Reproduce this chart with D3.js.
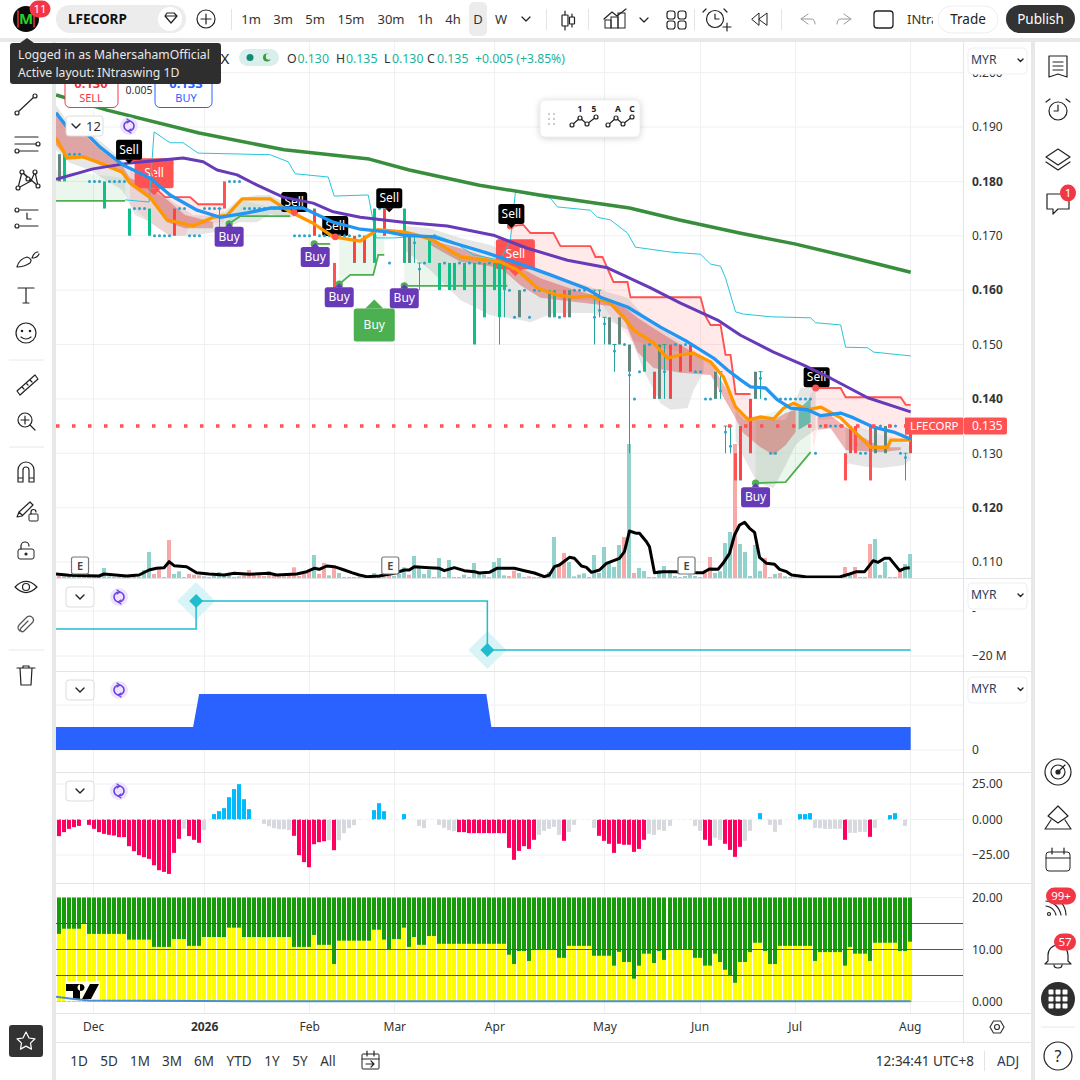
<!DOCTYPE html>
<html><head><meta charset="utf-8">
<script src="https://cdn.jsdelivr.net/npm/d3@7/dist/d3.min.js"></script>
<style>html,body{margin:0;padding:0;background:#e8e8e8;overflow:hidden}svg{display:block}text{font-family:"Noto Sans",sans-serif}</style>
</head><body><svg id="c" width="1080" height="1080" viewBox="0 0 1080 1080"></svg>
<script>
// ---------- categories / ticks ----------
const monthTicks=[[6.8,"Dec",0],[29,"2026",1],[50,"Feb",0],[67,"Mar",0],[87,"Apr",0],[109,"May",0],[128,"Jun",0],[147,"Jul",0],[170,"Aug",0]];
const priceTicks=[0.2,0.19,0.18,0.17,0.16,0.15,0.14,0.13,0.12,0.11];
const boldPrices=[0.18,0.16,0.14,0.12];
const ranges=[["1D",79],["5D",109],["1M",140],["3M",172],["6M",204],["YTD",239],["1Y",272],["5Y",300],["All",328]];
const intervals=[["1m",251],["3m",283],["5m",315],["15m",351],["30m",391],["1h",425],["4h",453],["D",478],["W",501]];
// ---------- price bars: kind m=mixed g=green r=red d=dot t=thin ----------
const barKind=["m","g","d","d","d","","d","d","d","g","d","d","d","d","g","d","d","d","g","d","d","d","d","m","d","d","d","d","d","d","d","d","t","r","d","d","d","d","d","d","d","d","d","d","d","d","d","d","d","d","d","m","d","d","d","r","d","d","d","m","d","m","","g","d","m","d","","","g","m","t","t","d","g","d","g","d","g","g","d","g","d","g","d","g","d","g","g","g","d","d","m","d","d","d","d","d","m","g","d","r","m","d","d","d","d","t","t","t","m","t","m","d","m","d","d","g","d","m","m","t","m","d","m","d","m","d","d","d","d","m","t","t","t","r","m","","m","m","t","d","d","d","d","d","d","d","d","d","d","d","d","d","d","d","d","r","m","r","d","d","r","m","d","m","d","d","d","t","m"];
const barTop=[.185,.185,.185,.185,.185,null,.18,.18,.18,.18,.18,.18,.18,.18,.175,.175,.175,.175,.175,.17,.17,.17,.17,.175,.175,.175,.17,.17,.17,.175,.175,.175,.175,.18,.18,.18,.18,.175,.175,.175,.175,.175,.175,.175,.175,.175,.175,.17,.17,.17,.17,.175,.17,.17,.17,.165,.17,.17,.17,.17,.17,.17,null,.175,.175,.175,.165,null,null,.175,.17,.17,.165,.165,.17,.17,.165,.165,.165,.165,.165,.165,.165,.165,.165,.165,.165,.165,.165,.165,.16,.155,.16,.16,.155,.16,.16,.16,.16,.16,.155,.16,.16,.16,.16,.16,.16,.16,.16,.155,.155,.15,.155,.15,.15,.14,.145,.15,.15,.145,.15,.15,.15,.15,.15,.15,.15,.145,.145,.14,.14,.145,.145,.135,.135,.13,.135,null,.14,.145,.145,.14,.13,.13,.14,.14,.14,.14,.14,.14,.14,.13,.135,.135,.135,.135,.135,.13,.135,.135,.13,.13,.135,.135,.135,.135,.135,.135,.13,.13,.135];
const barBot=[.18,.18,.185,.185,.185,null,.18,.18,.18,.175,.18,.18,.18,.18,.17,.175,.175,.175,.17,.17,.17,.17,.17,.17,.175,.175,.17,.17,.17,.175,.175,.175,.17,.175,.18,.18,.18,.175,.175,.175,.175,.175,.175,.175,.175,.175,.175,.17,.17,.17,.17,.17,.17,.17,.17,.16,.17,.17,.17,.165,.17,.165,null,.165,.175,.17,.165,null,null,.165,.165,.165,.16,.165,.165,.17,.16,.165,.16,.16,.165,.16,.165,.15,.165,.155,.165,.16,.155,.16,.16,.155,.155,.16,.155,.16,.16,.16,.155,.155,.155,.155,.155,.16,.16,.16,.16,.15,.155,.15,.15,.145,.15,.15,.145,.14,.145,.145,.15,.14,.14,.14,.14,.15,.145,.15,.145,.145,.145,.14,.14,.14,.14,.13,.13,.125,.125,null,.13,.14,.14,.14,.13,.13,.14,.14,.14,.14,.14,.14,.14,.13,.135,.135,.135,.135,.135,.125,.13,.13,.13,.13,.125,.13,.135,.13,.135,.135,.13,.125,.13];
const barWick=[[88,.15],[89,.155],[114,.13]];
const barDot=[[32,.175],[71,.1687],[72,.1639],[107,.155],[108,.1563],[109,.1538],[111,.1488],[114,.1444],[121,.145],[132,.1415],[133,.1339],[134,.1313],[140,.1438],[169,.1292]];
// ---------- overlays: [bar, price] ----------
const slowMa=[[-.6,.1959],[9.6,.1931],[28,.1889],[45,.1858],[62,.1841],[70,.1821],[84,.1793],[96,.1775],[114,.1751],[124,.1729],[136,.1705],[147,.1685],[158,.1661],[170.2,.1633]];
const purpleMa=[[-.6,.1804],[6.8,.1823],[14.2,.1834],[24.8,.1843],[28.8,.1836],[31.6,.1821],[35.6,.1812],[39.6,.1793],[44.8,.1771],[50.8,.176],[54.8,.1744],[60.2,.1734],[68.8,.1725],[77.6,.1718],[86.8,.1701],[93.6,.1677],[101.6,.1655],[109.6,.1641],[113.6,.1624],[118.2,.1604],[124.2,.1576],[131.6,.1545],[136.2,.1517],[142.8,.1486],[148.8,.1462],[154.2,.1438],[161.6,.1402],[170.2,.1376]];
const blueMa=[[-.6,.1926],[1.6,.19],[4.8,.1894],[8.2,.1863],[12.8,.183],[18.2,.1806],[22.2,.1775],[27.6,.1747],[32.2,.1734],[37.6,.1742],[42.2,.1751],[48.8,.1751],[54.8,.1725],[60.2,.1712],[65.6,.1707],[68.8,.1701],[74.8,.1698],[80.2,.1683],[85.6,.1668],[92.8,.1646],[98.2,.1628],[105.6,.1602],[108.2,.1587],[113.6,.1569],[120.2,.1532],[125.6,.1505],[130.8,.1475],[133.6,.1453],[136.2,.1435],[138.2,.1422],[141.2,.142],[143.6,.1398],[146.2,.1383],[149.6,.138],[152.2,.1369],[156.2,.1374],[158.8,.1365],[162.8,.1348],[166.8,.1339],[170.2,.1326]];
const orangeMa=[[-.6,.188],[1.6,.1843],[4.8,.1845],[8.2,.1834],[12.6,.1817],[14.2,.1797],[18.2,.1771],[21.6,.1729],[26.8,.1718],[30.8,.1734],[33.6,.1738],[36.6,.1768],[42.2,.1768],[46.2,.1744],[50.8,.1723],[54.8,.1698],[60.2,.169],[63.6,.1711],[68.8,.1707],[71.6,.1701],[74.8,.1692],[80.2,.1661],[88.2,.1652],[91.6,.1637],[95.6,.1604],[99.6,.1591],[102.8,.1587],[106.2,.1589],[110.2,.1576],[112.8,.1551],[114.8,.1527],[118.8,.1503],[121.6,.1475],[124.2,.1481],[126.8,.1484],[130.2,.1468],[132.8,.144],[135.2,.1385],[137.8,.1361],[140.2,.1367],[142.8,.1363],[144.8,.1383],[146.8,.1392],[149.6,.138],[152.2,.1385],[156.2,.1365],[159.6,.1334],[162.2,.1311],[165.6,.1311],[166.2,.1324],[170.2,.1324]];
const cyanTrail=[[13.2,.1766],[18,.1762],[19,.1891],[22.2,.1871],[24.8,.1871],[27.8,.1852],[42.2,.1849],[45.8,.1836],[47.2,.1814],[53.8,.1808],[55,.1773],[61.8,.1775],[63.4,.1696],[66.8,.1696],[75.2,.1701],[78.8,.1689],[82.8,.1665],[88.2,.1655],[90.2,.1692],[91.2,.178],[91.6,.178],[98.2,.1769],[99.6,.1753],[106.2,.1747],[107.6,.1734],[110.2,.1729],[113.6,.1705],[115.2,.1679],[122.2,.167],[128.2,.1666],[130.2,.1648],[132.2,.1644],[133.2,.1622],[135.2,.156],[136.8,.1556],[142.2,.1551],[150.2,.1549],[151.2,.154],[156.2,.1536],[157.2,.1495],[161.6,.1494],[162.8,.1486],[170.2,.1479]];
const redStop1=[[14,.1839],[18.2,.1839],[19.6,.1784],[21.2,.1771],[26.2,.1771],[27.8,.1758],[33,.1758]];
const redStop2=[[90.2,.1718],[92.8,.172],[94.2,.1705],[98.8,.1705],[100.2,.1681],[106.2,.1681],[107.2,.1661],[108.6,.1661],[110.8,.1615],[113.6,.1615],[114.2,.1587],[128.2,.1587],[129.2,.1552],[130.2,.1536],[132.2,.1536],[133.2,.1481],[134.2,.1481],[135.2,.1409],[138.2,.1409]];
const redStop3=[[151.2,.142],[156.2,.142],[157.2,.1403],[168.2,.1403],[169.2,.1389],[170.2,.1389]];
const greenStop1=[[-.6,.1764],[13.2,.1764]];
const greenStop2=[[34,.1722],[36.2,.1736],[46.2,.1736]];
const greenStop3=[[51,.1685],[54.2,.1685]];
const greenStop4=[[56,.1611],[58.2,.1628],[62.8,.1628],[63.8,.1665],[65,.1665]];
const greenStop5=[[69,.1608],[89.6,.1608]];
const greenStop6=[[139.2,.1245],[145.2,.1247],[150.2,.1302]];
// ---------- bands: [bar, upper, lower] ----------
const grayBands=[
[[-.6,.194,.1858],[2.2,.1904,.1834],[6.2,.1889,.1821],[9.2,.1867,.1803],[12.6,.1839,.1784],[15.2,.1812,.1738],[18.2,.1793,.1725],[22.2,.1766,.17],[26.8,.1738,.17],[31.2,.1736,.1707],[33,.1744,.1714],[36.2,.1769,.1725],[39.6,.1775,.1725],[42.2,.1775,.174],[46.2,.1757,.1733],[48.2,.1757,.1738]],
[[69,.1718,.1674],[74.2,.1714,.1637],[80.2,.1696,.1582],[86.2,.1683,.1554],[92.2,.1659,.1545],[94.2,.1646,.1541],[98.8,.1628,.1558],[106.8,.1604,.1558],[113.6,.1586,.1527],[116.8,.1554,.1453],[120.2,.1536,.1392],[122.2,.1517,.138],[125.6,.1499,.1383],[126.8,.149,.1416],[128.8,.1471,.1449]],
[[135.2,.138,.1324],[136.8,.1361,.1293],[139.6,.1361,.1245],[142.8,.1361,.1236],[145.2,.1361,.1278],[147.2,.1398,.1315],[148.2,.142,.1324],[151.2,.1422,.1343]],
[[157.2,.1352,.1282],[161.2,.1343,.1275],[164.2,.1334,.1273],[168.8,.1324,.1278],[170.2,.1315,.1288]]];
const darkRedBands=[
[[-.6,.1928,.1867],[1.6,.1898,.1843],[4.8,.1889,.1845],[8.2,.1858,.183],[12.6,.183,.1817],[14.2,.1806,.1793],[18.2,.1788,.1766],[21.6,.1766,.1725],[25.2,.1738,.1714],[30.8,.1725,.1714]],
[[74.2,.1692,.1683],[80.2,.1677,.1652],[88.2,.1652,.1641],[92.2,.1641,.1609],[96.2,.1622,.1586],[103.2,.16,.1578],[110.2,.1582,.1571],[113.2,.1567,.1541],[115.6,.1549,.1486],[118.8,.153,.1457],[124.2,.1499,.1448],[130.2,.1468,.1444],[134.6,.1398,.1374],[136.8,.1367,.1337],[140.2,.1367,.1311],[142.8,.1361,.1297],[145.2,.1374,.1315],[147.2,.138,.1339]],
[[151.6,.1367,.1343],[154.2,.137,.1346],[157.2,.1348,.1306],[164.2,.1311,.1302],[168.2,.1311,.1306]]];
const pinkBands=[
[[14.2,.183,.1757],[18.2,.1806,.1725],[21.8,.1775,.17],[25.2,.1771,.17],[26.2,.1771,.172],[28.2,.1758,.1722],[33,.1758,.1725]],
[[90.2,.1718,.1641],[92.8,.172,.1633],[94.2,.1705,.1609],[98.8,.1705,.1591],[100.2,.1681,.1582],[106.2,.1681,.1582],[108.6,.1661,.1573],[110.8,.1615,.1545],[113.6,.1615,.1517],[114.2,.1587,.1508],[124.2,.1587,.1486],[128.2,.1587,.1481],[129.2,.1552,.1475],[130.2,.1536,.1466],[132.2,.1536,.1453],[133.2,.1481,.1438],[134.2,.1481,.1416],[135.2,.1409,.1385],[138.2,.1409,.1361]],
[[150,.1407,.1407],[150.8,.1416,.1306],[151.8,.142,.1361],[156.2,.142,.1365],[157.2,.1403,.1352],[168.2,.1403,.1324],[170.2,.1389,.1324]]];
const greenBands=[
[[-.6,.1821,.1764],[13.2,.1806,.1764]],
[[34,.1738,.1722],[36.2,.1766,.1736],[46.2,.1744,.1736]],
[[56,.1696,.1611],[58.2,.1696,.1628],[62.8,.1707,.1628],[63.8,.1707,.1665],[65,.1707,.1665]],
[[69,.1707,.1608],[74.2,.1692,.1608],[82.2,.1659,.1608],[89.6,.1652,.1608]],
[[139.2,.1365,.1245],[145.2,.1383,.1247],[150.2,.1385,.1302]]];
const tealBand=[[147.8,.138,.1343],[150.2,.1402,.1356]];
// ---------- tags: [label, bar, price] ----------
const sellBack=[[47,.1762],[55.2,.1718],[151.4,.144]];
const sellTop=[[14,.1858],[66,.1769],[90.4,.174]];
const sellBig=[[19,.1815],[91.2,.1666]];
const buyPurple=[[34,.1698],[51.2,.1661],[56,.1587],[69,.1585],[139.2,.1219]];
const buyBig=[[63,.1536]];
const greenDots=[[34,.1722],[51,.1685],[56,.1611],[69,.1608],[139.2,.1245]];
const redDots=[[47,.1743],[55.2,.1698],[66,.1753],[90.2,.1718],[151.2,.142]];
const earnings=[4.2,66.2,125.4];
// ---------- volume ----------
const volume=[6,5,5,5,5,5,6,6,6,30,5,3,3,3,8,3,3,24,78,12,25,3,114,12,20,3,12,10,8,5,3,6,18,8,10,3,5,8,24,8,8,6,20,8,5,5,8,32,6,12,20,69,12,45,8,30,15,3,3,3,3,2,3,15,8,3,8,6,12,32,10,66,30,12,24,3,60,3,54,3,3,10,3,45,12,10,3,48,60,8,6,22,15,3,5,3,3,3,18,123,35,75,48,5,10,14,3,69,15,93,48,33,99,123,402,15,30,21,3,3,24,36,24,6,3,6,10,6,3,15,63,15,20,105,138,402,102,78,6,99,21,60,3,12,15,5,3,2,2,2,2,2,2,2,2,2,2,33,8,33,3,3,102,117,9,48,3,3,21,42,72];
const volumeDown=[0,6,7,8,19,20,21,22,26,27,28,37,38,39,40,41,42,43,44,45,46,47,48,49,50,52,53,55,64,65,66,70,90,91,94,100,101,113,115,129,130,135,141,144,157,159,162,168];
const volumeMa=[[-.6,12],[2,8],[8,6],[9,12],[13.5,6],[16,9],[18,24],[19.5,29],[21,31],[22,49],[23,37],[25.5,34],[27.5,16],[30,12],[33,9],[35,14],[38,11],[42,14],[43.5,9],[47.5,12],[49.5,19],[51,29],[52,26],[53.5,36],[55,34],[57,24],[58.5,16],[60,9],[61.5,4],[64,6],[67,14],[69,24],[70,24],[71,34],[74,31],[76,29],[77,22],[79,31],[81,22],[83,19],[84,15],[86,17],[87.5,29],[89.5,29],[91,29],[93,22],[95,15],[97,4],[98,9],[99,34],[100,39],[102,62],[103,59],[104.4,36],[105.4,32],[106.4,17],[108,24],[109.4,44],[112,59],[113,79],[114,141],[115.4,134],[116,134],[117.4,109],[118,94],[119,16],[120.7,19],[123,19],[127.4,16],[128.7,16],[130,27],[131.7,26],[132.7,44],[134,74],[135,129],[136,159],[137,167],[138,149],[139,137],[140,62],[141.4,44],[143,41],[144,26],[145.4,19],[146.4,9],[148,6],[149.4,3],[156,3],[158,12],[159.4,19],[161,19],[162.7,52],[163.7,47],[165,59],[166,59],[168,22],[169,29],[170,31]];
// ---------- lower panes ----------
const flowLine=[[-.6,-8],[27.4,-8],[27.4,4.4],[85.6,4.4],[85.6,-17.3],[170.2,-17.3]];
const flowMarks=[[27.4,4.4],[85.6,-17.3]];
const blockArea=[[-.6,23],[26.8,23],[28,56],[85.4,56],[86.4,23],[170.2,23]];
const momentum=[-11.7,-8.9,-6.6,-5.4,-4.5,0,-3.8,-6.6,-8.9,-10.1,-10.8,-11.3,-12.4,-12.4,-18.8,-22.3,-25.1,-26.5,-27.7,-32.2,-35.7,-36.9,-38.3,-23.5,-13.6,-6.6,-11.7,-14.3,-16.4,-7.5,0,3.8,5.9,8,15.7,21.4,24.9,14.3,7.3,0,0,-3.1,-4.7,-6.1,-6.8,-6.8,-7.5,-11.5,-25.1,-30,-33.6,-17.4,-16,-15.3,-14.6,-21.6,-14.6,-9.6,-6.1,-4,0,0,0,6.6,11.5,5.9,0,0,0,3.8,0,0,-4.5,-6.1,0,0,-3.8,-5.9,-7.5,-8.2,-8.9,-8.9,-9.6,-9.6,-9.6,-9.6,-9.6,-9.6,-9.6,-9.6,-20,-28.4,-22.1,-18.8,-20.7,-14.3,-10.8,-8,-6.6,-5.2,-10.8,-15,-8.7,-3.8,0,0,0,-5.9,-11.5,-15,-17.1,-23.5,-17.1,-17.8,-17.8,-22.8,-20.7,-14.3,-10.1,-10.8,-7.3,-8,-4.5,0,0,0,0,-4.5,-8,-14.3,-18.5,-12.9,-14.3,-17.1,-21.4,-26.3,-19.2,-15,-8,0,4.5,0,-3.8,-8.7,-3.8,0,0,0,3.8,3.8,4.5,-5.9,-6.1,-6.6,-6.6,-6.6,-6.6,-14.3,-9.4,-9.4,-8.7,-8.7,-12.2,-5.9,0,0,3.1,4.5,0,-4.5,0];
const momentumGray=[25,29,41,42,43,44,45,46,54,56,57,58,59,72,73,76,77,78,79,96,97,98,99,100,102,103,107,118,119,120,121,122,127,128,131,132,137,138,142,143,144,151,152,153,154,155,156,158,159,160,161,163,169];
const strength=[13,14,14,14,14,14.9,13,13,13,13,13,13,13,13,11.9,11.9,11.9,11.9,11.9,10.5,10.5,10.5,10.5,12,12,12,10.7,10.7,10.7,12.4,12.4,12.4,12.4,12.4,14.2,14.2,14.2,12.4,12.4,12.4,12.4,12.4,12.4,12.4,12.4,12.4,12.4,10.5,10.5,10.5,10.5,12.8,10.9,10.9,10.9,7.2,11.7,11.7,11.7,11.7,11.7,11.7,11.7,13.8,13.8,11.9,10.1,12,12,14.2,10.5,12.4,10.9,10.9,12.6,12.6,11.1,11.1,11.1,11.1,11.1,11.1,11.1,11.1,11.1,11.1,11.1,11.1,11.1,11.1,9,7.2,9.7,9.7,7.8,9.9,9.9,9.9,9.9,9.9,8.4,8.4,10.7,10.7,10.7,10.7,10.7,8.8,8.8,8.8,8.8,6.9,9.55,7.6,7.6,4.4,6.9,9.2,9.2,7.4,9.7,8,9.9,9.9,9.9,9.9,9.9,8.4,8.4,6.9,6.9,9.2,7.6,6.1,5.1,3.6,7.6,7.6,9.5,11.3,11.3,9.7,7.2,7.2,10.7,10.7,10.7,10.7,10.7,10.7,10.7,7.8,9.5,9.5,9.5,9.5,9.5,6.9,10.5,9.2,9.2,9.2,7.8,11.3,11.3,11.3,11.3,11.3,9.7,9.7,11.5];
const strengthLevels=[15,10,5];
const strengthSignal=[[-.6,.9],[3,.5],[6,.2],[40,.05],[170.2,.05]];
const lastPrice=0.135;

const svg=d3.select("#c");
const defs=svg.append("defs");
const clip=(id,x,y,w,h)=>defs.append("clipPath").attr("id",id).append("rect").attr("x",x).attr("y",y).attr("width",w).attr("height",h);
clip("pMain",56,42,907,536);clip("pAll",56,42,907,971);clip("intra",905,8,28,24);
// scales
const X=d3.scaleLinear().domain([0,170]).range([59,909.7]);
const XB=i=>Math.round(X(i))-2;
const Y=d3.scaleLinear().domain([.19,.11]).range([127,562]);
const YV=d3.scaleLinear().domain([0,402]).range([578,444]);
const YF=d3.scaleLinear().domain([0,-20]).range([611,656]);
const YB=d3.scaleLinear().domain([0,100]).range([750,650]);
const YM=d3.scaleLinear().domain([25,-25]).range([784,855]);
const YS=d3.scaleLinear().domain([20,0]).range([897.5,1001.5]);
const FG="#2a2e39",LINE="#e3e3e8",GRID="#f0f0f3";
// panels
svg.append("rect").attr("width",1080).attr("height",1080).attr("fill","#e8e8e8");
svg.append("rect").attr("width",1080).attr("height",38).attr("fill","#fff");
svg.append("rect").attr("y",42).attr("width",52).attr("height",1038).attr("fill","#fff");
svg.append("rect").attr("x",56).attr("y",42).attr("width",975).attr("height",1038).attr("fill","#fff");
svg.append("rect").attr("x",1035).attr("y",42).attr("width",45).attr("height",1038).attr("fill","#fff");
const g=svg.append("g");
// gridlines
const vg=g.append("g").attr("stroke",GRID).attr("stroke-width",1);
monthTicks.forEach(t=>vg.append("line").attr("x1",Math.round(X(t[0]))+.5).attr("x2",Math.round(X(t[0]))+.5).attr("y1",42).attr("y2",1013));
const hline=(y)=>vg.append("line").attr("x1",56).attr("x2",963).attr("y1",y).attr("y2",y);
priceTicks.forEach(p=>hline(Y(p)));
hline(YF(0));hline(YF(-20));hline(YB(0));hline(705);
[25,0,-25].forEach(v=>hline(YM(v)));[20,0].forEach(v=>hline(YS(v)));
// pane dividers
[578.5,671.5,772.5,883.5,1013.5].forEach(y=>g.append("line").attr("x1",56).attr("x2",1031).attr("y1",y).attr("y2",y).attr("stroke",LINE).attr("stroke-width",1));
g.append("line").attr("x1",963.5).attr("x2",963.5).attr("y1",42).attr("y2",1043).attr("stroke",LINE);
g.append("line").attr("x1",56).attr("x2",1031).attr("y1",1042.5).attr("y2",1042.5).attr("stroke",LINE);
// main pane
const m=g.append("g").attr("clip-path","url(#pMain)");
const area=d3.area().x(d=>X(d[0])).y0(d=>Y(d[1])).y1(d=>Y(d[2]));
const ln=d3.line().x(d=>X(d[0])).y(d=>Y(d[1]));
// volume
m.selectAll(".v").data(volume).join("rect").attr("x",(d,i)=>XB(i)).attr("width",4).attr("y",d=>YV(d)).attr("height",d=>578-YV(d))
 .attr("fill",(d,i)=>volumeDown.includes(i)?"#f7a9a7":"#92d2cc");
// bands
grayBands.forEach(b=>m.append("path").attr("d",area(b)).attr("fill","#d9d9d9").attr("fill-opacity",.65));
greenBands.forEach(b=>m.append("path").attr("d",area(b)).attr("fill","#4caf50").attr("fill-opacity",.11));
pinkBands.forEach(b=>m.append("path").attr("d",area(b)).attr("fill","#ff5252").attr("fill-opacity",.13));
darkRedBands.forEach(b=>m.append("path").attr("d",area(b)).attr("fill","#d32f2f").attr("fill-opacity",.36));
m.append("path").attr("d",area(tealBand)).attr("fill","#2a9d8f").attr("fill-opacity",.6);
// tags under lines
const tag=(layer,p,w,h,fill,text,dir,ptr,fs,op)=>{
  const cx=X(p[0]),cy=Y(p[1]);const s=layer.append("g").attr("opacity",op||1);
  s.append("rect").attr("x",cx-w/2).attr("y",cy-h/2).attr("width",w).attr("height",h).attr("rx",2.5).attr("fill",fill);
  const e=dir>0?cy+h/2:cy-h/2;
  s.append("path").attr("d",`M${cx-ptr},${e}L${cx},${e+dir*ptr}L${cx+ptr},${e}Z`).attr("fill",fill);
  s.append("text").attr("x",cx).attr("y",cy+4).attr("text-anchor","middle").attr("font-size",fs).attr("fill","#fff").text(text);
};
sellBig.forEach(p=>tag(m,p,39,30,"#ff5252","Sell",1,7,12));
sellBack.forEach(p=>tag(m,p,26,20,"#000","Sell",1,4,12));
// green / red stops
[greenStop1,greenStop2,greenStop3,greenStop4,greenStop5,greenStop6].forEach(s=>m.append("path").attr("d",ln(s)).attr("fill","none").attr("stroke","#4caf50").attr("stroke-width",1.8));
[redStop1,redStop2,redStop3].forEach(s=>m.append("path").attr("d",ln(s)).attr("fill","none").attr("stroke","#ff5252").attr("stroke-width",1.9));
m.append("path").attr("d",ln(cyanTrail)).attr("fill","none").attr("stroke","#26c6da").attr("stroke-width",1);
// price bars
barKind.forEach((k,i)=>{
  if(!k)return;const x=Math.round(X(i)),t=Y(barTop[i]),b=Y(barBot[i]);
  if(k==="g"){m.append("rect").attr("x",x-1).attr("y",t).attr("width",3).attr("height",b-t).attr("fill","#0fbf8b");}
  else if(k==="r"){m.append("rect").attr("x",x-1).attr("y",t).attr("width",3).attr("height",b-t).attr("fill","#ff5252");}
  else if(k==="m"){m.append("rect").attr("x",x-1).attr("y",t).attr("width",3).attr("height",b-t).attr("fill","#26a69a");
    m.append("rect").attr("x",x-.3).attr("y",t+.5).attr("width",1.6).attr("height",b-t-1).attr("fill","#ff4040");}
  else if(k==="t"){m.append("line").attr("x1",x+.5).attr("x2",x+.5).attr("y1",t).attr("y2",b).attr("stroke","#26a69a");
    m.append("line").attr("x1",x-1.5).attr("x2",x+2.5).attr("y1",t).attr("y2",t).attr("stroke","#26a69a");}
  else {m.append("circle").attr("cx",x+.5).attr("cy",t).attr("r",1.5).attr("fill","#2aa0d0");}
});
barWick.forEach(w=>{const i=w[0],x=Math.round(X(i))+.5;m.append("line").attr("x1",x).attr("x2",x).attr("y1",Y(barBot[i])).attr("y2",Y(w[1])).attr("stroke","#26a69a");});
barDot.forEach(d=>m.append("circle").attr("cx",Math.round(X(d[0]))+.5).attr("cy",Y(d[1])).attr("r",1.5).attr("fill","#2aa0d0"));
// moving averages
const ma=(d,c,w)=>m.append("path").attr("d",ln(d)).attr("fill","none").attr("stroke",c).attr("stroke-width",w).attr("stroke-linejoin","round");
ma(slowMa,"#388e3c",3.5);ma(orangeMa,"#ff9800",3.3);ma(purpleMa,"#673ab7",3);ma(blueMa,"#2196f3",3.3);
// volume ma
m.append("path").attr("d",d3.line().x(d=>X(d[0])).y(d=>YV(d[1]))(volumeMa)).attr("fill","none").attr("stroke","#000").attr("stroke-width",3).attr("stroke-linejoin","round");
// last price
m.append("line").attr("x1",56).attr("x2",963).attr("y1",Y(lastPrice)).attr("y2",Y(lastPrice)).attr("stroke","#ff5252").attr("stroke-width",3.5).attr("stroke-dasharray","3.5 12.5");
// circles & tags
greenDots.forEach(p=>m.append("circle").attr("cx",X(p[0])).attr("cy",Y(p[1])).attr("r",3.6).attr("fill","#4caf50"));
redDots.forEach(p=>m.append("circle").attr("cx",X(p[0])).attr("cy",Y(p[1])).attr("r",3.4).attr("fill","#ff5252"));
sellTop.forEach(p=>tag(m,p,26,20,"#000","Sell",1,4,12));
buyPurple.forEach(p=>tag(m,p,29,20,"#673ab7","Buy",-1,4,12));
buyBig.forEach(p=>tag(m,p,41,33,"#4caf50","Buy",-1,9,12));
// earnings
earnings.forEach(i=>{const x=X(i);m.append("rect").attr("x",x-8.5).attr("y",557).attr("width",17).attr("height",17).attr("rx",2).attr("fill","#fff").attr("stroke","#777").attr("stroke-width",1.2);
 m.append("text").attr("x",x).attr("y",570).attr("text-anchor","middle").attr("font-size",11).attr("fill","#444").attr("font-weight",600).text("E");});
// pane 2 flow
const fl=d3.line().x(d=>X(d[0])).y(d=>YF(d[1]));
flowMarks.forEach(p=>{const x=X(p[0]),y=YF(p[1]);
 g.append("path").attr("d",`M${x},${y-19}L${x+19},${y}L${x},${y+19}L${x-19},${y}Z`).attr("fill","#d9f4f7");});
g.append("path").attr("d",fl(flowLine)).attr("fill","none").attr("stroke","#22bccf").attr("stroke-width",1.5);
flowMarks.forEach(p=>{const x=X(p[0]),y=YF(p[1]);
 g.append("path").attr("d",`M${x},${y-7}L${x+7},${y}L${x},${y+7}L${x-7},${y}Z`).attr("fill","#22bccf");});
// pane 3 block
g.append("path").attr("d",d3.area().x(d=>X(d[0])).y0(YB(0)).y1(d=>YB(d[1]))(blockArea)).attr("fill","#2962ff");
// pane 4 momentum
g.selectAll(".m").data(momentum).join("rect").attr("x",(d,i)=>XB(i)).attr("width",4).attr("y",d=>Math.min(YM(d),YM(0))).attr("height",d=>Math.abs(YM(d)-YM(0)))
 .attr("fill",(d,i)=>d>0?"#00bcff":momentumGray.includes(i)?"#d8d9de":"#ff0060");
g.append("line").attr("x1",56).attr("x2",910).attr("y1",YM(0)).attr("y2",YM(0)).attr("stroke","#fff").attr("stroke-dasharray","3 3").attr("opacity",.7);
// pane 5 strength
g.selectAll(".s1").data(strength).join("rect").attr("x",(d,i)=>XB(i)).attr("width",4).attr("y",YS(20)).attr("height",YS(0)-YS(20)).attr("fill","#169c0a");
g.selectAll(".s2").data(strength).join("rect").attr("x",(d,i)=>XB(i)).attr("width",4).attr("y",d=>YS(d)).attr("height",d=>YS(0)-YS(d)).attr("fill","#ffff00");
strengthLevels.forEach(v=>g.append("line").attr("x1",56).attr("x2",963).attr("y1",YS(v)).attr("y2",YS(v)).attr("stroke","#8e24aa").attr("stroke-width",1));
// TV logo
const tv=g.append("g").attr("transform","translate(66,982)");
tv.append("rect").attr("x",-1).attr("y",-1).attr("width",35).attr("height",20).attr("fill","#fff").attr("opacity",.9);
tv.append("path").attr("d","M0,2H14V17H7V9H0Z M15,2a3.5,3.5 0 1 0 .01,0 M24,2H33L25,17H16Z").attr("fill","#000");
g.append("path").attr("d",d3.line().x(d=>X(d[0])).y(d=>YS(d[1]))(strengthSignal)).attr("fill","none").attr("stroke","#4a90d9").attr("stroke-width",2);
// axes
const axis=(scale,vals,fmt)=>{const a=g.append("g").attr("transform","translate(972,0)").call(d3.axisRight(scale).tickValues(vals).tickSize(0).tickPadding(0).tickFormat(fmt));
 a.select(".domain").remove();a.selectAll("text").attr("font-size",12).attr("fill","#333").attr("font-family",'"Noto Sans",sans-serif');return a;};
const pa=axis(Y,priceTicks,d3.format(".3f"));
pa.selectAll("text").attr("font-weight",d=>boldPrices.includes(d)?700:400);
axis(YF,[-20],()=>"\u221220 M");
g.append("text").attr("x",972).attr("y",615).attr("font-size",12).attr("fill","#333").text("-");
axis(YB,[0],()=>"0");
axis(YM,[25,0,-25],d=>d===0?"0.000":d3.format(".2f")(d).replace("-","\u2212"));
axis(YS,[20,10,0],d=>d===0?"0.000":d3.format(".2f")(d));
// last price labels
const py=Y(lastPrice);
g.append("rect").attr("x",905).attr("y",py-8.5).attr("width",58).attr("height",17).attr("fill","#ff5252");
g.append("rect").attr("x",963.5).attr("y",py-8.5).attr("width",43.5).attr("height",17).attr("fill","#ff5252").attr("rx",2);
g.append("text").attr("x",910).attr("y",py+4).attr("font-size",11.5).attr("fill","#fff").text("LFECORP");
g.append("text").attr("x",972).attr("y",py+4).attr("font-size",12).attr("fill","#fff").text("0.135");
// time axis
const ta=g.append("g").attr("transform","translate(0,1013)").call(d3.axisBottom(X).tickValues(monthTicks.map(d=>d[0])).tickSize(0).tickPadding(9).tickFormat(d=>monthTicks.find(t=>t[0]===d)[1]));
ta.select(".domain").remove();
ta.selectAll("text").attr("font-size",12).attr("fill","#333").attr("font-family",'"Noto Sans",sans-serif').attr("font-weight",d=>monthTicks.find(t=>t[0]===d)[2]?700:400);
// helper ui
const T=(x,y,s,o={})=>svg.append("text").attr("x",x).attr("y",y).text(s).attr("font-size",o.fs||13).attr("fill",o.c||FG).attr("text-anchor",o.a||"start").attr("font-weight",o.w||400);
const P=(d,o={})=>svg.append("path").attr("d",d).attr("fill",o.f||"none").attr("stroke",o.s||"#222").attr("stroke-width",o.sw||1.2).attr("stroke-linecap","round").attr("stroke-linejoin","round");
const C=(x,y,r,o={})=>svg.append("circle").attr("cx",x).attr("cy",y).attr("r",r).attr("fill",o.f||"none").attr("stroke",o.s||"#222").attr("stroke-width",o.sw===undefined?1.2:o.sw);
const R=(x,y,w,h,rx,o={})=>svg.append("rect").attr("x",x).attr("y",y).attr("width",w).attr("height",h).attr("rx",rx).attr("fill",o.f||"none").attr("stroke",o.s||"none").attr("stroke-width",o.sw||1);
const badge=(x,y,w,s)=>{R(x-w/2,y-8.5,w,17,8.5,{f:"#f23645"});T(x,y+4,s,{fs:11.5,c:"#fff",a:"middle"});};
// chart legend row
T(225,64,"X",{fs:15,c:"#222",a:"middle"});
R(239,49,40,17,8.5,{f:"#d9efeb"});C(250,57.5,3.5,{f:"#128a7a",s:"none",sw:0});C(267,57.5,4,{f:"#3a9a3a",s:"none",sw:0});C(269,56.5,3.2,{f:"#d9efeb",s:"none",sw:0});
const q="#1bb39b";
[["O",287,"0.130",297.5],["H",336,"0.135",346],["L",384,"0.130",392],["C",427,"0.135",437]].forEach(a=>{T(a[1],63,a[0],{fs:12.3,c:"#333"});T(a[3],63,a[2],{fs:12.3,c:q});});
T(475,63,"+0.005 (+3.85%)",{fs:12.2,c:q});
// order boxes
R(65,70,53,37.5,5,{f:"#fff",s:"#f23645"});R(155,70,57,37.5,5,{f:"#fff",s:"#2962ff"});
T(91,88,"0.130",{fs:13,c:"#f23645",a:"middle",w:700});T(91,102,"SELL",{fs:11,c:"#f23645",a:"middle"});
T(139,94,"0.005",{fs:10.5,c:"#333",a:"middle"});
T(186,88,"0.133",{fs:13,c:"#2962ff",a:"middle",w:700});T(186,102,"BUY",{fs:11,c:"#2962ff",a:"middle"});
// tooltip
svg.append("path").attr("d","M20,43L27,38L34,43Z").attr("fill","#2e2e2e");
R(10,43,211,41,3,{f:"#2e2e2e"});
T(18,59,"Logged in as MahersahamOfficial",{fs:12.2,c:"#e8e8e8"});T(18,77,"Active layout: INtraswing 1D",{fs:12.2,c:"#e8e8e8"});
// pane controls
const ctrl=(y,label)=>{R(66,y-10,28,20,3,{f:"#fff",s:"#dcdcdc"});P(`M${76},${y-2}l4,4l4,-4`,{sw:1.4});
 if(label)T(86,y+5,label,{fs:12.5,c:"#333"});};
R(66,116,37,20,3,{f:"#fff",s:"#dcdcdc"});P("M72,124l4,4l4,-4",{sw:1.4});T(86,131,"12",{fs:13,c:"#333"});
[597,690,791].forEach(y=>ctrl(y));
const sync=(x,y)=>{C(x,y,9,{f:"#ece4fb",s:"none",sw:0});C(x,y,5,{s:"#6a3de8",sw:1.6});P(`M${x-2},${y-7}l3,2l-3,2M${x+2},${y+7}l-3,-2l3,-2`,{s:"#6a3de8",sw:1.2});};
sync(129,126);sync(119,597);sync(119,690);sync(119,791);
// MYR selectors
[[968,48],[968,583],[968,677]].forEach(a=>{R(a[0],a[1],59,26,4,{f:"#fff",s:"#eceff2"});T(a[0]+3,a[1]+16,"MYR",{fs:12.2,c:"#2a3a60"});P(`M${a[0]+50},${a[1]+11}l2.5,2.5l2.5,-2.5`,{sw:1.4});});
// settings hex
P("M990,1027l3.5,-6h7l3.5,6l-3.5,6h-7Z",{s:"#333"});C(997,1027,2.5,{s:"#333"});
// floating toolbar
svg.append("rect").attr("x",540).attr("y",100).attr("width",100).attr("height",37).attr("rx",5).attr("fill","#fff").attr("stroke","#eee").attr("style","filter:drop-shadow(0 1px 3px rgba(0,0,0,.18))");
[0,1,2].forEach(r=>[0,1].forEach(c=>svg.append("rect").attr("x",548+c*5).attr("y",113+r*5).attr("width",2).attr("height",2).attr("fill","#ccc")));
const wave=(x)=>{P(`M${x},125L${x+8},118L${x+15},124L${x+24},117`,{sw:1.2});[[0,125],[8,118],[15,124],[24,117]].forEach(p=>C(x+p[0],p[1],2,{f:"#fff"}));};
wave(572);wave(608);
T(580,112,"1",{fs:8.5,a:"middle",w:700,c:"#222"});T(594,112,"5",{fs:8.5,a:"middle",w:700,c:"#222"});T(618,112,"A",{fs:8.5,a:"middle",w:700,c:"#222"});T(632,112,"C",{fs:8.5,a:"middle",w:700,c:"#222"});
// top toolbar
C(26,19,13,{f:"#0a0a0a",s:"none",sw:0});T(26,24,"M",{fs:15,c:"#22d322",a:"middle",w:700});P("M18,11v16M34,11v16",{s:"#e03030",sw:1.6});
badge(40,9,21,"11");
R(56,5,130,28,14,{f:"#ececec"});T(68,24,"LFECORP",{fs:13.5,c:"#111",w:700});
C(170,19,12,{f:"#fff",s:"none",sw:0});P("M165,16l2,-3h7l3,3l-6,7Z M165,16h12",{sw:1.2});
C(206,19,9,{});P("M201,19h10M206,14v10",{sw:1.2});
[231,546,588,694,781].forEach(x=>svg.append("line").attr("x1",x+.5).attr("x2",x+.5).attr("y1",9).attr("y2",30).attr("stroke","#e4e4e4"));
R(469,2,18,34,5,{f:"#ececec"});
intervals.forEach(a=>T(a[1],24,a[0],{fs:13,c:"#333",a:"middle"}));
P("M522,17l4,4l4,-4");
P("M565,11v4M565,26v4M572,14v3M572,24v3");R(562,15,6,11,.5,{s:"#222",sw:1.2});R(569.5,17,5,7,.5,{s:"#222",sw:1.2});
P("M604,19l8,-7l5,4l9,-7");R(605,20,6,8,0,{s:"#222"});R(611,17,7,11,0,{s:"#222"});R(618,13,7,15,0,{s:"#222"});
P("M640,18l4,4l4,-4");
[[667,11],[678,11],[667,21],[678,21]].forEach(p=>R(p[0],p[1],8,8,2.5,{s:"#222",sw:1.2}));
C(715,19,8.5,{});P("M715,14v5h4M706,9l-3,3M724,9l3,3M723,27h8M727,23v8",{sw:1.2});
P("M752,19l7,-6v12ZM759,19l8,-6v12Z",{sw:1});
P("M808,14l-7,5l7,5M801,19h10q4,0 4,5",{s:"#999",sw:1});
P("M844,14l7,5l-7,5M851,19h-10q-4,0 -4,5",{s:"#999",sw:1});
R(874,11,19,17,3,{s:"#222",sw:1.3});
const it=T(907,24,"INtra",{fs:13,c:"#333"});it.attr("clip-path","url(#intra)");
R(938,6,60,27,13.5,{f:"#fff",s:"#eee"});T(968,24,"Trade",{fs:13.5,c:"#222",a:"middle"});
R(1006,5,69,28,14,{f:"#333"});T(1040.5,24,"Publish",{fs:13.5,c:"#fff",a:"middle"});
// left tools
const sep=(y)=>svg.append("line").attr("x1",9).attr("x2",44).attr("y1",y).attr("y2",y).attr("stroke","#e8e8e8");
P("M18,112L34,97");C(17,113,2,{f:"#fff"});C(35,96,2,{f:"#fff"});
P("M15,137H38M15,144H36M19,151H38");C(38,144,2,{f:"#fff"});C(17,151,2,{f:"#fff"});
P("M18,188L22,172L31,181L35,172L38,186M18,188L31,181M22,172L38,186");[[18,188],[22,172],[35,172],[38,186],[28,179]].forEach(p=>C(p[0],p[1],2,{f:"#fff"}));
P("M20,210H38M20,226H38M27,213v6h4");C(17,210,2,{f:"#fff"});C(17,226,2,{f:"#fff"});
P("M17,267q2,-8 10,-10q6,2 3,6q-6,4 -13,4ZM32,258q2,-6 6,-6M33,258q4,0 6,-4");
P("M18,288H34M26,288V303M23,303H29");
C(26,333,10);C(22,331,.7,{f:"#222"});C(30,331,.7,{f:"#222"});P("M21,337q5,4 10,0");
P("M17,391L35,375L38,379L20,395ZM22,387l2,2M26,383l2,2M30,380l2,2");
C(25,420,7);P("M21,420h8M25,416v8M30,425l5,5");
P("M18,482V470a8,8 0 0 1 16,0V482H29V470a3,3 0 0 0 -6,0V482ZM18,478h5M29,478h5");
P("M17,517l2,-5l11,-10l3,3l-11,11ZM19,512l3,3");R(29,514,9,7,1,{s:"#222"});P("M31,514v-2a2.5,2.5 0 0 1 5,0");
R(18,549,16,10,2,{s:"#222"});P("M21,549v-3a4,4 0 0 1 8,0");C(26,554,1,{f:"#222"});
P("M15,587q11,-11 22,0q-11,11 -22,0Z");C(26,587,3.5);
P("M20,631l-1,-1a4,4 0 0 1 0,-5l8,-8a4,4 0 0 1 6,5l-9,9a2,2 0 0 1 -3,-3l7,-7",{s:"#555"});
P("M17,668h18M20,668l1,17h10l1,-17M23,668v-2h6v2",{s:"#222"});
[360,447,650].forEach(sep);
R(9,1025,34,32,3,{f:"#333"});P("M26,1032l3,6l6,.8l-4.5,4.3l1,6l-5.5,-3l-5.5,3l1,-6l-4.5,-4.3l6,-.8Z",{s:"#fff"});
// right tools
const RX=1058;
P("M1049,56h18v21l-9,-3l-9,3ZM1053,62h10M1053,66h10M1053,70h10");
C(RX,111,9);P("M1058,105v6h-4M1050,99l-4,3M1066,99l4,3");
P("M1058,149l12,8l-12,8l-12,-8ZM1046,162l12,8l12,-8");
P("M1047,194h22v15h-11l-5,5v-5h-6Z");badge(1068,193,16,"1");
C(RX,772,13);C(RX,772,7);C(RX,772,2,{f:"#222"});P("M1058,772l7,-7");
P("M1058,806l10,10l-10,7l-10,-7ZM1051,820l-6,9h26l-6,-9");
R(1046,852,24,19,3,{s:"#222"});P("M1052,848v6M1064,848v6M1046,858h24");
C(1049,914,1.5);P("M1046,906a12,12 0 0 1 10,9M1046,901a17,17 0 0 1 15,14M1050,896a20,20 0 0 1 16,19");badge(1061,896,30,"99+");
P("M1048,961v-6a10,10 0 0 1 20,0v6l3,3h-26ZM1054,965a4,3 0 0 0 8,0");badge(1065,942,22,"57");
C(RX,999,17,{f:"#2e2e2e",s:"none",sw:0});
[-7,0,7].forEach(dx=>[-7,0,7].forEach(dy=>R(RX+dx-2.5,999+dy-2.5,5,5,1,{f:"#fff"})));
svg.append("line").attr("x1",1041).attr("x2",1075).attr("y1",1027).attr("y2",1027).attr("stroke","#e8e8e8");
C(RX,1056,14);T(RX,1062,"?",{fs:16,c:"#222",a:"middle"});
// bottom bar
ranges.forEach(a=>T(a[1],1066,a[0],{fs:13.5,c:"#333",a:"middle"}));
R(362,1054,17,15,1,{s:"#222"});P("M362,1059h17M367,1051v5M374,1051v5M366,1064h8M371,1061l3,3l-3,3");
T(974,1066,"12:34:41 UTC+8",{fs:13.5,c:"#333",a:"end"});
svg.append("line").attr("x1",984.5).attr("x2",984.5).attr("y1",1051).attr("y2",1071).attr("stroke","#e4e4e4");
T(1008,1066,"ADJ",{fs:13.5,c:"#2a3a60",a:"middle"});
</script></body></html>
